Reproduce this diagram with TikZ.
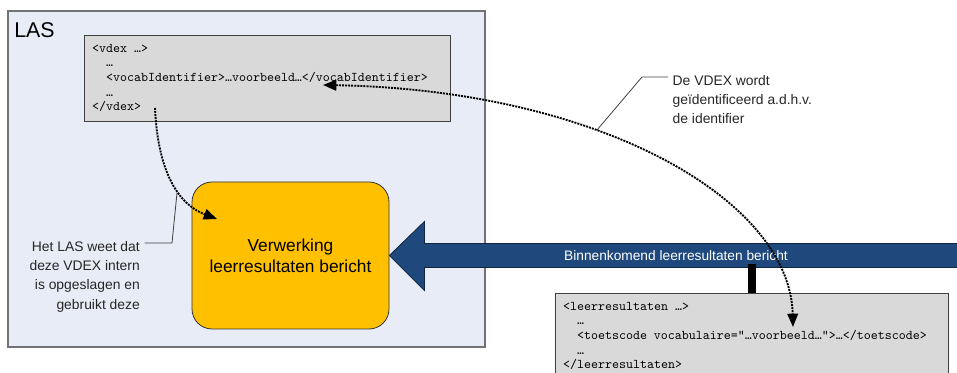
\documentclass[tikz,border=0pt]{standalone}
\usepackage{fontspec}
\setmainfont{Liberation Sans}
\usepackage{tikz}
\usetikzlibrary{positioning,arrows.meta}
\definecolor{lasfill}{HTML}{E7ECF6}
\definecolor{codefill}{HTML}{D9D9D9}
\definecolor{procfill}{HTML}{FFC000}
\definecolor{msgblue}{HTML}{1F497D}
\definecolor{msgedge}{HTML}{10253F}
\tikzset{
las/.style={draw=black!55, line width=1.1pt, fill=lasfill, minimum width=357.75pt, minimum height=252pt},
code/.style={draw=black!75, line width=0.6pt, fill=codefill, align=left, inner xsep=6pt, font=\ttfamily\fontsize{10}{10.9}\selectfont, minimum height=64.5pt},
proc/.style={draw=black!80, line width=0.6pt, fill=procfill, rounded corners=15pt, minimum width=147.75pt, minimum height=110.25pt, align=center, font=\fontsize{13}{15.75}\selectfont},
note/.style={font=\fontsize{10.4}{14.5}\selectfont, text=black!85},
callout/.style={draw=black!75, line width=0.6pt},
link/.style={line width=1.4pt, dash pattern=on 1.5pt off 0.8pt, >={Triangle[length=10pt,width=8pt]}},
msgarrow/.style={fill=msgblue, draw=msgedge, line width=0.6pt, line join=miter},
bar/.style={line width=6pt}
}
\newcommand{\ind}{\hspace*{10.5pt}}
\newcommand{\tsp}{\phantom{x}}
\begin{document}
\begin{tikzpicture}[x=0.75pt,y=-0.75pt]
\useasboundingbox (0,0) rectangle (957,373);
\node[las] (las) at (246.5,179) {};
\node[anchor=west, inner sep=0pt, font=\fontsize{16}{19}\selectfont] (lastitle) at (14,30) {LAS};
\node[code, text width=262.5pt] (vdex) at (267,78) {<vdex\tsp…>\\\ind…\\\ind<vocabIdentifier>…voorbeeld…</vocabIdentifier>\\\ind…\\</vdex>};
\node[proc] (verw) at (290.5,255.5) {Verwerking\\leerresultaten bericht};
\draw[msgarrow] (verw.east) -- ++(35,-34) -- ++(0,22) -- ++(540,0) -- ++(0,24) -- ++(-540,0) -- ++(0,23) -- cycle;
\node[text=white, font=\fontsize{10.3}{12}\selectfont] (msg) at (676,256) {Binnenkomend leerresultaten bericht};
\node[code, text width=282.75pt] (lr) at (751.5,336) {<leerresultaten\tsp…>\\\ind…\\\ind<toetscode\tsp vocabulaire="…voorbeeld…">…</toetscode>\\\ind…\\</leerresultaten>};
\draw[bar] (lr.north) -- ++(0,-29);
\node[note, anchor=west, align=left] (idnote) at (668,99.5) {De VDEX wordt\\geïdentificeerd a.d.h.v.\\de identifier};
\node[note, anchor=east, align=right] (lasnote) at (144.5,276.5) {Het LAS weet dat\\deze VDEX intern\\is opgeslagen en\\gebruikt deze};
\coordinate (idhit) at (597,130);
\coordinate (idknee) at (642,77);
\coordinate (lashit) at (177,193);
\coordinate (lasknee) at (172,243);
\draw[callout] (idhit) -- (idknee) -- (idknee -| idnote.west);
\draw[callout] (lashit) -- (lasknee) -- (lasknee -| lasnote.east);
\coordinate (vdexend) at (155,108);
\coordinate (verwin) at (217,219);
\coordinate (idsrc) at (323,85);
\coordinate (iddst) at (793,327);
\draw[link, ->] (vdexend) .. controls (158,175) and (180,205) .. (verwin);
\draw[link, <->] (idsrc) .. controls (600,90) and (790,200) .. (iddst);
\end{tikzpicture}
\end{document}
